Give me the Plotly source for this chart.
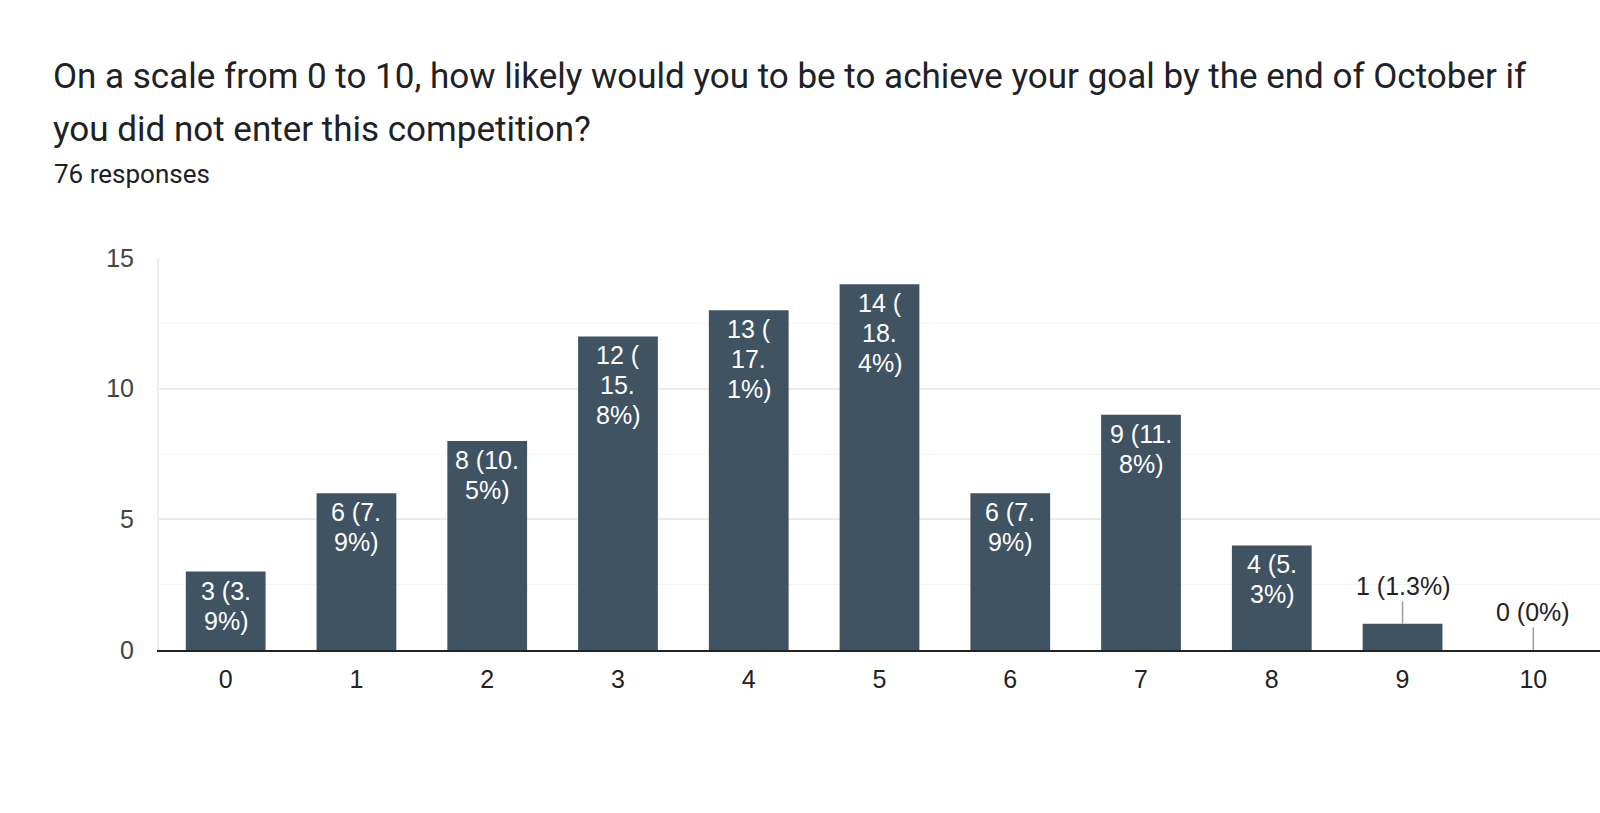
import plotly.graph_objects as go

categories = ["0", "1", "2", "3", "4", "5", "6", "7", "8", "9", "10"]
counts = [3, 6, 8, 12, 13, 14, 6, 9, 4, 1, 0]
labels = ["3 (3.<br>9%)", "6 (7.<br>9%)", "8 (10.<br>5%)", "12 (<br>15.<br>8%)",
          "13 (<br>17.<br>1%)", "14 (<br>18.<br>4%)", "6 (7.<br>9%)", "9 (11.<br>8%)",
          "4 (5.<br>3%)", "1 (1.3%)", "0 (0%)"]
y_ticks = [0, 5, 10, 15]

title_line1 = "On a scale from 0 to 10, how likely would you to be to achieve your goal by the end of October if"
title_line2 = "you did not enter this competition?"
subtitle = "76 responses"

BAR = "#3f5363"
W, H = 1600, 813
L, R, T, B = 159, 0, 258, 163
LABEL_FONT = "Liberation Sans, Arial"
LABEL_SIZE = 25

fig = go.Figure()
fig.add_trace(go.Bar(
    x=categories, y=counts, marker=dict(color=BAR, line=dict(width=0)),
    width=0.61, hoverinfo="skip"))

annotations = []
for c, v, lab in zip(categories, counts, labels):
    if v >= 3:
        for i, line in enumerate(lab.split("<br>")):
            annotations.append(dict(
                x=c, y=v, xref="x", yref="y", text=line, showarrow=False,
                yanchor="middle", yshift=-(19 + 30 * i),
                font=dict(family=LABEL_FONT, size=LABEL_SIZE, color="#ffffff")))
    else:
        annotations.append(dict(
            x=c, y=v, xref="x", yref="y", text=lab, showarrow=True,
            arrowhead=0, arrowwidth=1.5, arrowcolor="#9e9e9e", ax=0, ay=-38,
            font=dict(family=LABEL_FONT, size=LABEL_SIZE, color="#222222")))

def text_ann(text, px_y, size, xpos, color="#202124"):
    return dict(text=text, xref="paper", yref="paper", x=0, y=1,
                xanchor="left", yanchor="middle", xshift=xpos - L, yshift=T - px_y,
                showarrow=False, font=dict(family="Roboto", size=size, color=color))

annotations.append(text_ann(title_line1, 76, 35, 51))
annotations.append(text_ann(title_line2, 129, 35, 51))
annotations.append(text_ann(subtitle, 174, 26, 52))

fig.update_layout(
    width=W, height=H,
    margin=dict(l=L, r=R, t=T, b=B),
    paper_bgcolor="#ffffff", plot_bgcolor="#ffffff",
    showlegend=False,
    annotations=annotations,
    xaxis=dict(
        type="category", range=[-0.51, 10.51], showgrid=False,
        showline=True, linecolor="#222222", linewidth=2,
        ticks="", ticklabelstandoff=6,
        tickfont=dict(family=LABEL_FONT, size=25, color="#222222"),
        fixedrange=True),
    yaxis=dict(
        range=[0, 15], tickvals=y_ticks, showgrid=True, gridcolor="#ebebeb", gridwidth=1.5,
        zeroline=False, showline=True, linecolor="#eeeeee", linewidth=2,
        minor=dict(dtick=2.5, tick0=0, showgrid=True, gridcolor="#f4f4f4", gridwidth=1),
        ticks="", ticklabelstandoff=18,
        tickfont=dict(family=LABEL_FONT, size=25, color="#444444"),
        fixedrange=True),
)

fig.write_html("out.html", config={"displayModeBar": False})
